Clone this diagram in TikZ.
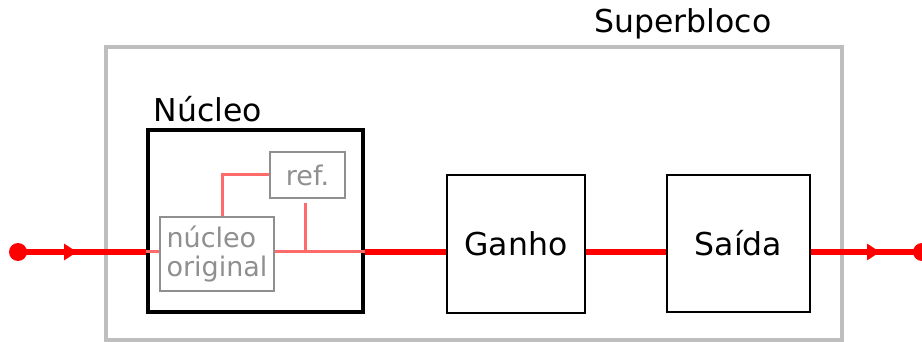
\documentclass[tikz,border=0pt]{standalone}
\usepackage{fontspec}
\setmainfont{DejaVu Sans}
\usetikzlibrary{arrows.meta,decorations.markings}
\definecolor{sigred}{HTML}{FF0000}
\definecolor{sublred}{HTML}{FF6B6B}
\definecolor{framegray}{HTML}{BEBEBE}
\definecolor{innergray}{HTML}{8F8F8F}
\tikzset{
  bigtext/.style={font=\fontsize{31.5}{38}\selectfont},
  smalltext/.style={font=\fontsize{27}{32}\selectfont, text=innergray},
  blockbox/.style={draw=black, line width=2pt, inner sep=0pt, bigtext},
  innerbox/.style={draw=innergray, line width=2pt, inner sep=0pt, smalltext},
  signal/.style={draw=sigred, line width=5pt},
  subsignal/.style={draw=sublred, line width=3pt},
  dotend/.style={circle, fill=sigred, minimum size=18pt, inner sep=0pt},
  midarrow/.style={postaction={decorate, decoration={markings,
      mark=at position #1 with {\arrow[sigred]{Triangle[length=13pt,width=16pt]}}}}}
}
\begin{document}
\begin{tikzpicture}[x=1pt, y=-1pt]
  \useasboundingbox (0,0) rectangle (922,342);

  % outer superblock frame and its title
  \node[draw=framegray, line width=3.5pt, minimum width=736pt, minimum height=293pt, inner sep=0pt]
    (super) at (474,193.5) {};
  \node[bigtext, anchor=center] (supertitle) at (683,24) {Superbloco};

  % core block
  \node[draw=black, line width=3.5pt, minimum width=215pt, minimum height=182pt, inner sep=0pt]
    (nucleo) at (255.5,221) {};
  \node[bigtext] (nucleotitle) at (208,109) {Núcleo};

  % inner blocks of the core
  \node[innerbox, minimum width=114pt, minimum height=74pt, align=left]
    (orig) at (217,254) {núcleo\\[-3pt]original};
  \node[innerbox, minimum width=75pt, minimum height=46pt]
    (ref) at (307.5,175) {ref.};

  % gain and output blocks
  \node[blockbox, minimum width=138pt, minimum height=138pt] (ganho) at (516,244) {Ganho};
  \node[blockbox, minimum width=143pt, minimum height=137pt] (saida) at (738.5,243.5) {Saída};

  % terminals
  \node[dotend] (inpt) at (18,252) {};
  \node[dotend] (outpt) at (922,252) {};

  % signal path
  \draw[signal, midarrow=59pt] (inpt.center) -- (nucleo.west |- inpt);
  \draw[subsignal] (nucleo.west |- inpt) -- (orig.west |- inpt);
  \draw[subsignal] (orig.east |- inpt) -- (nucleo.east |- inpt);
  \draw[subsignal] ([xshift=5pt]orig.north) |- (ref.west);
  \draw[subsignal] ([xshift=-2pt,yshift=-4pt]ref.south) -- ([xshift=-2pt]ref.south |- inpt);
  \draw[signal] (nucleo.east |- inpt) -- (ganho.west |- inpt);
  \draw[signal] (ganho.east |- inpt) -- (saida.west |- inpt);
  \draw[signal, midarrow=69pt] (saida.east |- inpt) -- (outpt.center);
\end{tikzpicture}
\end{document}
